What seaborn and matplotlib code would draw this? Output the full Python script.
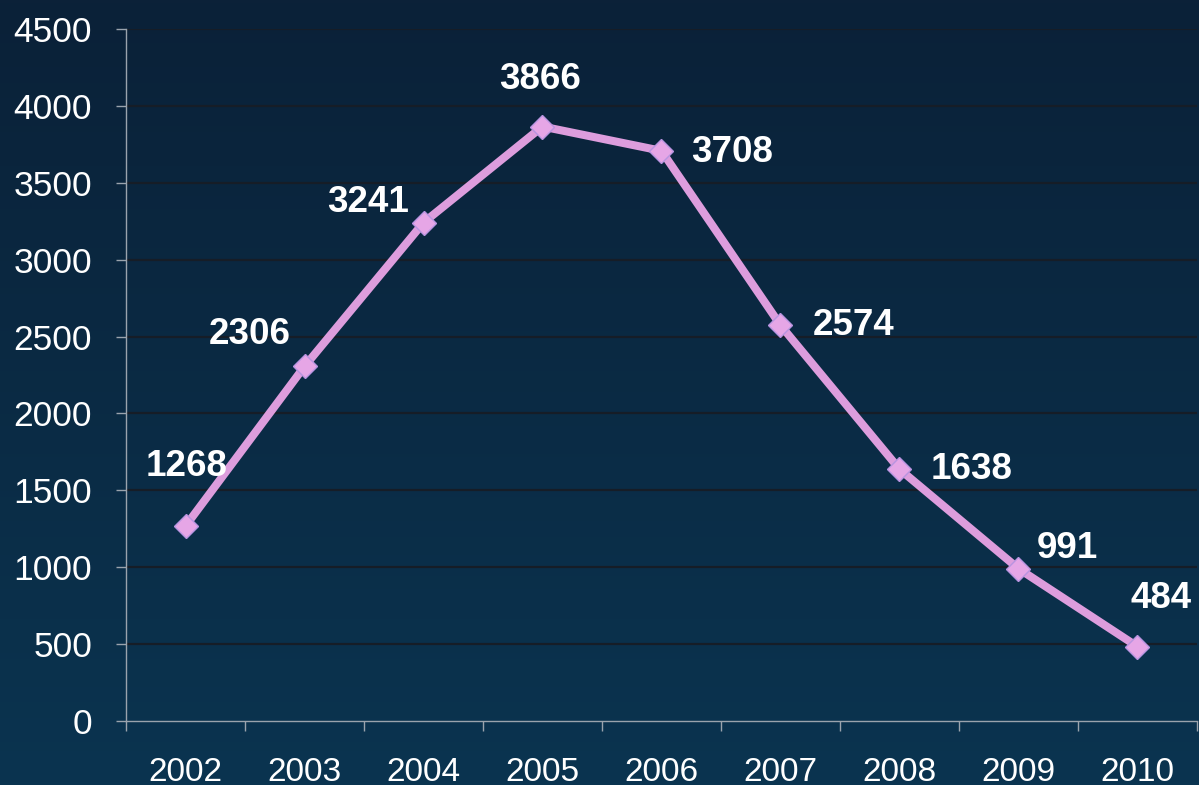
import numpy as np
import pandas as pd
import matplotlib
matplotlib.use("Agg")
import matplotlib.pyplot as plt
import seaborn as sns

years = ["2002", "2003", "2004", "2005", "2006", "2007", "2008", "2009", "2010"]
counts = [1268, 2306, 3241, 3866, 3708, 2574, 1638, 991, 484]
y_ticks = [0, 500, 1000, 1500, 2000, 2500, 3000, 3500, 4000, 4500]

# label placement around each point (pixels)
label_offsets = [(1, 60), (-55, 32), (-55, 20), (-2, 47), (71, -2), (73, 0), (72, 0), (49, 20), (24, 48)]

sns.set_theme(style="white")
plt.rcParams["font.family"] = ["Liberation Sans", "DejaVu Sans"]

df = pd.DataFrame({"year": years, "count": counts})

fig = plt.figure(figsize=(11.99, 7.85), dpi=100)

# vertical gradient backdrop
bg = fig.add_axes([0, 0, 1, 1], zorder=0)
top = np.array([11, 33, 56]) / 255
bottom = np.array([10, 52, 80]) / 255
t = np.linspace(0, 1, 256)[:, None]
grad = (top[None, :] * (1 - t) + bottom[None, :] * t)[:, None, :]
bg.imshow(grad, aspect="auto", extent=[0, 1, 0, 1])
bg.set_axis_off()

ax = fig.add_axes([0.1051, 0.0815, 0.8932, 0.8815], zorder=1)
ax.patch.set_alpha(0)

sns.lineplot(data=df, x="year", y="count", ax=ax, color="#dd9ddd", linewidth=5.8,
             marker="D", markersize=12, markerfacecolor="#e6a6e6",
             markeredgecolor="#b894e0", markeredgewidth=1.0, zorder=3)

for i, (v, (dx, dy)) in enumerate(zip(counts, label_offsets)):
    ax.annotate(str(v), (i, v), xytext=(dx, dy), textcoords="offset pixels",
                ha="center", va="center", color="white", fontsize=26.5,
                fontweight="bold", zorder=4)

ax.set_ylim(0, 4500)
ax.set_xlim(-0.5, len(years) - 0.5)
ax.set_yticks(y_ticks)
ax.set_yticklabels([str(v) for v in y_ticks])
ax.set_xticks(range(len(years)))
ax.set_xticklabels(years)
ax.set_xticks(np.arange(-0.5, len(years), 1.0), minor=True)

for yv in y_ticks[1:]:
    ax.axhline(yv, color="#161d27", linewidth=1.6, zorder=1)

ax.set_xlabel("")
ax.set_ylabel("")
for side in ["top", "right"]:
    ax.spines[side].set_visible(False)
for side in ["left", "bottom"]:
    ax.spines[side].set_color("#9aa3ad")
    ax.spines[side].set_linewidth(1.0)

ax.tick_params(axis="y", which="major", length=7.5, width=1.0, color="#9aa3ad",
               labelcolor="white", labelsize=25.5, pad=17, left=True)
ax.tick_params(axis="x", which="major", length=0, labelcolor="white",
               labelsize=24, pad=26, bottom=True)
ax.tick_params(axis="x", which="minor", length=7.5, width=1.0, color="#9aa3ad", bottom=True)

fig.savefig("out.png", dpi=100)
